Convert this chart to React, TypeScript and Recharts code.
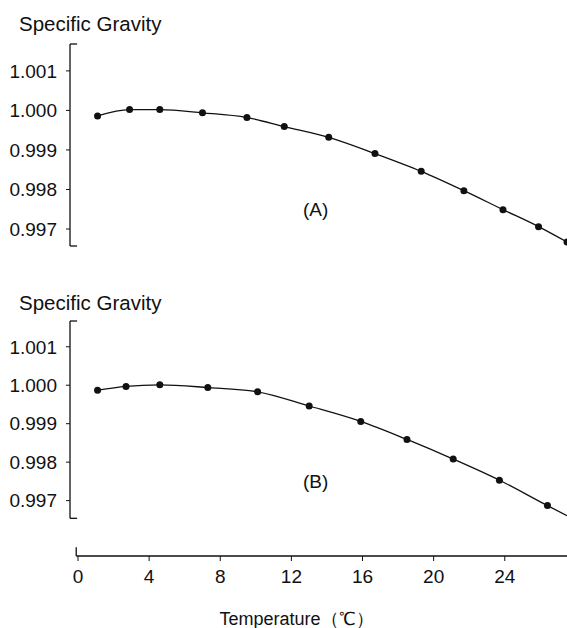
import React from 'react';
import { LineChart, Line, XAxis, YAxis, ReferenceLine, Label } from 'recharts';

const FONT = '"Liberation Sans", Arial, sans-serif';
const INK = '#111';

const tempTicks = [0, 4, 8, 12, 16, 20, 24];
const gravityTicks = [0.997, 0.998, 0.999, 1.0, 1.001];

// panel (A)
const aTemp = [1.1, 2.9, 4.6, 7.0, 9.5, 11.6, 14.1, 16.7, 19.3, 21.7, 23.9, 25.9, 27.5];
const aGravity = [0.99986, 1.00002, 1.00002, 0.99994, 0.99982, 0.99959, 0.99932, 0.99891, 0.99846, 0.99797, 0.99749, 0.99706, 0.99667];

// panel (B) - the last entry is where the curve runs off the frame (no marker)
const bTemp = [1.1, 2.7, 4.6, 7.3, 10.1, 13.0, 15.9, 18.5, 21.1, 23.7, 26.4, 27.5];
const bGravity = [0.99987, 0.99997, 1.00001, 0.99994, 0.99983, 0.99946, 0.99906, 0.99859, 0.99808, 0.99753, 0.99687, 0.99661];

const aData = aTemp.map((t, i) => ({ t, g: aGravity[i] }));
const bData = bTemp.map((t, i) => ({ t, g: bGravity[i] }));

const X_MIN = -0.45;
const X_MAX = 27.5;
const STUB = 0.4;

const A_TOP = 1.00168;
const A_BOT = 0.99657;
const B_TOP = 1.00167;
const B_BOT = 0.99654;
const B_AXIS = 0.99556;

const tickStyle = { fontSize: 19, fontFamily: FONT, fill: INK };

const makeDot = (skipLast: number) => (props: any) => {
  const { cx, cy, index } = props;
  if (skipLast >= 0 && index === skipLast) return <g key={`d-${index}`} />;
  return <circle key={`d-${index}`} cx={cx} cy={cy} r={3.5} fill={INK} stroke="none" />;
};

const bracket = (top: number, bot: number) => [
  { x1: X_MIN, y1: top, x2: X_MIN, y2: bot },
  { x1: X_MIN, y1: top, x2: X_MIN + STUB, y2: top },
  { x1: X_MIN, y1: bot, x2: X_MIN + STUB, y2: bot },
];

const xAxisLines = [
  { x1: -0.1, y1: B_AXIS, x2: X_MAX, y2: B_AXIS },
  { x1: -0.1, y1: B_AXIS, x2: -0.1, y2: B_AXIS + 0.00023 },
];

const textStyle: React.CSSProperties = {
  position: 'absolute',
  fontFamily: FONT,
  fontSize: 19,
  lineHeight: '19px',
  color: INK,
  whiteSpace: 'nowrap',
};

const titleStyle: React.CSSProperties = { ...textStyle, fontSize: 20.5, lineHeight: '20.5px' };

export default function App() {
  return (
    <div style={{ position: 'absolute', left: 0, top: 0, width: 567, height: 628, background: '#fff', overflow: 'hidden' }}>
      <div style={{ position: 'absolute', left: 0, top: 0 }}>
        <LineChart width={567} height={260} data={aData} margin={{ top: 44, right: 0, bottom: 14, left: 0 }}>
          <XAxis dataKey="t" type="number" domain={[X_MIN, X_MAX]} hide />
          <YAxis type="number" domain={[A_BOT, A_TOP]} ticks={gravityTicks} width={70}
            axisLine={false} tickSize={4} tickMargin={9} tick={tickStyle}
            tickLine={{ stroke: INK }} tickFormatter={(v) => v.toFixed(3)} />
          {bracket(A_TOP, A_BOT).map((s, i) => (
            <ReferenceLine key={`ab${i}`} segment={[{ x: s.x1, y: s.y1 }, { x: s.x2, y: s.y2 }]}
              stroke={INK} strokeWidth={1.3} ifOverflow="visible" />
          ))}
          <Line dataKey="g" type="monotone" stroke={INK} strokeWidth={1.3}
            dot={makeDot(-1)} activeDot={false} isAnimationActive={false} />
        </LineChart>
      </div>
      <div style={{ position: 'absolute', left: 0, top: 260 }}>
        <LineChart width={567} height={368} data={bData} margin={{ top: 61, right: 0, bottom: 0, left: 0 }}>
          <XAxis dataKey="t" type="number" domain={[X_MIN, X_MAX]} ticks={tempTicks} height={72}
            axisLine={false} tickSize={5} tickMargin={9} tick={tickStyle} tickLine={{ stroke: INK }}>
            <Label value="Temperature（℃）" position="insideBottom" offset={3} dx={-22}
              style={{ fontSize: 18, fontFamily: FONT, fill: INK }} />
          </XAxis>
          <YAxis type="number" domain={[B_AXIS, B_TOP]} ticks={gravityTicks} width={70}
            axisLine={false} tickSize={4} tickMargin={9} tick={tickStyle}
            tickLine={{ stroke: INK }} tickFormatter={(v) => v.toFixed(3)} />
          {bracket(B_TOP, B_BOT).map((s, i) => (
            <ReferenceLine key={`bb${i}`} segment={[{ x: s.x1, y: s.y1 }, { x: s.x2, y: s.y2 }]}
              stroke={INK} strokeWidth={1.3} ifOverflow="visible" />
          ))}
          {xAxisLines.map((s, i) => (
            <ReferenceLine key={`bx${i}`} segment={[{ x: s.x1, y: s.y1 }, { x: s.x2, y: s.y2 }]}
              stroke={INK} strokeWidth={1.3} ifOverflow="visible" />
          ))}
          <Line dataKey="g" type="monotone" stroke={INK} strokeWidth={1.3}
            dot={makeDot(bTemp.length - 1)} activeDot={false} isAnimationActive={false} />
        </LineChart>
      </div>
      <div style={{ ...titleStyle, left: 19, top: 14 }}>Specific Gravity</div>
      <div style={{ ...titleStyle, left: 19, top: 293 }}>Specific Gravity</div>
      <div style={{ ...textStyle, left: 303, top: 200 }}>(A)</div>
      <div style={{ ...textStyle, left: 303, top: 472 }}>(B)</div>
    </div>
  );
}
